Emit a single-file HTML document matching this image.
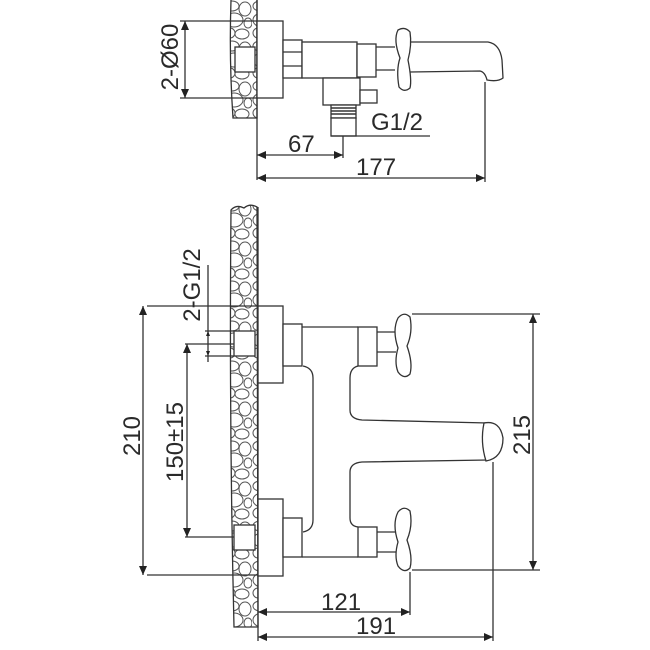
<!DOCTYPE html>
<html><head><meta charset="utf-8"><style>
html,body{margin:0;padding:0;background:#fff;}
svg{display:block;}
text{font-family:"Liberation Sans",sans-serif;fill:#2a2a2a;}
</style></head><body>
<svg width="650" height="650" viewBox="0 0 650 650" xmlns="http://www.w3.org/2000/svg">
<defs>
<pattern id="peb" x="0" y="0" width="28" height="40" patternUnits="userSpaceOnUse">
<rect width="28" height="40" fill="#fff"/>
<g fill="none" stroke="#555" stroke-width="1">
<ellipse cx="8" cy="6" rx="7" ry="5"/>
<ellipse cx="21" cy="9" rx="6" ry="7"/>
<ellipse cx="10" cy="20" rx="9" ry="7"/>
<ellipse cx="24" cy="23" rx="4" ry="5"/>
<ellipse cx="6" cy="33" rx="5" ry="5"/>
<ellipse cx="18" cy="34" rx="7" ry="5"/>
</g>
</pattern>
</defs>
<g stroke="#333" stroke-width="1.3" fill="none">
<!-- TOP VIEW -->
<path d="M231 0 Q229 60 233 118 L257 118 L257 0" fill="url(#peb)"/>
<line x1="257" y1="0" x2="257" y2="180"/>
<rect x="235" y="47" width="20" height="25" fill="#fff"/>
<rect x="257" y="21" width="26" height="77" fill="#fff"/>
<rect x="283" y="40" width="19" height="38" fill="#fff"/>
<line x1="283" y1="52" x2="302" y2="52"/><line x1="283" y1="66" x2="302" y2="66"/>
<rect x="302" y="42" width="55" height="36" fill="#fff"/>
<rect x="357" y="44" width="19" height="33" fill="#fff"/>
<path d="M376 47 L395 47 M376 70 L395 70"/>
<path d="M410 42 L488 42 Q500 44 502 60 L503 78 Q498 82 487 80 Q485 72 480 71 L410 72"/>
<path d="M398 30 Q405 26 410 32 Q412 45 408 60 Q412 80 410 88 Q404 93 399 87 Q396 70 400 58 Q393 40 398 30Z" fill="#fff"/>
<rect x="323" y="78" width="37" height="27" fill="#fff"/>
<rect x="360" y="90" width="17" height="13" fill="#fff"/>
<rect x="331" y="105" width="25" height="13" fill="#fff"/>
<path d="M331 108H356M331 111H356M331 114H356" stroke-width="1.5"/>
<rect x="331" y="118" width="25" height="18" fill="#fff"/>
<!-- dims top -->
<line x1="180" y1="21" x2="257" y2="21"/><line x1="180" y1="98" x2="257" y2="98"/>
<line x1="185" y1="21" x2="185" y2="98"/>
<line x1="331" y1="136" x2="430" y2="136"/>
<line x1="343" y1="136" x2="343" y2="158"/>
<line x1="257" y1="155" x2="343" y2="155"/>
<line x1="485" y1="82" x2="485" y2="182"/>
<line x1="257" y1="178" x2="485" y2="178"/>
<!-- BOTTOM VIEW -->
<path d="M231 210 Q236 204 244 208 Q250 203 257 207 L258 627 L234 627 Q229 420 231 210Z" fill="url(#peb)"/>
<line x1="258" y1="207" x2="258" y2="641"/>
<rect x="234" y="331" width="21" height="25" fill="#fff"/>
<rect x="234" y="525" width="21" height="25" fill="#fff"/>
<rect x="258" y="306" width="25" height="77" fill="#fff"/>
<rect x="258" y="499" width="25" height="77" fill="#fff"/>
<rect x="283" y="324" width="19" height="42" fill="#fff"/>
<rect x="283" y="518" width="19" height="39" fill="#fff"/>
<path d="M302 327 L358 327 M302 557 L358 557 M303 366 Q313 368 313 378 L313 520 Q313 530 303 532"/>
<path d="M358 366 Q350 368 350 378 L350 410 Q350 419 362 420 L488 423 M488 460 L362 462 Q350 463 350 472 L350 518 Q350 526 358 527"/>
<path d="M484 423 Q500 420 503 438 Q503 458 486 461 Q480 442 484 423Z" fill="#fff"/>
<rect x="358" y="327" width="19" height="39" fill="#fff"/>
<rect x="358" y="527" width="19" height="30" fill="#fff"/>
<path d="M377 332H396M377 352H396M377 532H396M377 552H396"/>
<path d="M398 318 Q404 311 410 317 Q413 332 407 346 Q413 363 410 374 Q404 380 398 372 Q394 362 398 348 Q392 330 398 318Z" fill="#fff"/>
<path d="M398 512 Q404 505 410 511 Q413 526 407 540 Q413 557 410 568 Q404 574 398 566 Q394 556 398 542 Q392 524 398 512Z" fill="#fff"/>
<!-- dims bottom -->
<line x1="147" y1="306" x2="258" y2="306"/><line x1="147" y1="575" x2="258" y2="575"/>
<line x1="143" y1="306" x2="143" y2="575"/>
<line x1="185" y1="344" x2="234" y2="344"/><line x1="185" y1="537" x2="234" y2="537"/>
<line x1="187" y1="344" x2="187" y2="537"/>
<line x1="205" y1="331" x2="234" y2="331"/><line x1="205" y1="356" x2="234" y2="356"/>
<line x1="208" y1="265" x2="208" y2="362"/>
<line x1="412" y1="314" x2="540" y2="314"/><line x1="412" y1="570" x2="540" y2="570"/>
<line x1="533" y1="314" x2="533" y2="570"/>
<line x1="410" y1="572" x2="410" y2="615"/>
<line x1="493" y1="462" x2="493" y2="641"/>
<line x1="258" y1="612" x2="410" y2="612"/>
<line x1="258" y1="637" x2="493" y2="637"/>
</g>
<g fill="#222">
<path d="M185 21l-4 9h8zM185 98l-4-9h8z"/>
<path d="M257 155l9-4v8zM343 155l-9-4v8z"/>
<path d="M257 178l9-4v8zM485 178l-9-4v8z"/>
<path d="M143 306l-4 9h8zM143 575l-4-9h8z"/>
<path d="M187 344l-4 9h8zM187 537l-4-9h8z"/>
<path d="M208 331l-2 5h4zM208 356l-2-5h4z"/>
<path d="M533 314l-4 9h8zM533 570l-4-9h8z"/>
<path d="M258 612l9-4v8zM410 612l-9-4v8z"/>
<path d="M258 637l9-4v8zM493 637l-9-4v8z"/>
</g>
<g font-size="24">
<text x="371" y="130">G1/2</text>
<text x="288" y="152">67</text>
<text x="356" y="175">177</text>
<text x="321" y="610">121</text>
<text x="356" y="634">191</text>
<text transform="translate(178,57) rotate(-90)" text-anchor="middle">2-Ø60</text>
<text transform="translate(140,436) rotate(-90)" text-anchor="middle">210</text>
<text transform="translate(183,442) rotate(-90)" text-anchor="middle">150±15</text>
<text transform="translate(200,285) rotate(-90)" text-anchor="middle">2-G1/2</text>
<text transform="translate(530,435) rotate(-90)" text-anchor="middle">215</text>
</g>
</svg>
</body></html>
